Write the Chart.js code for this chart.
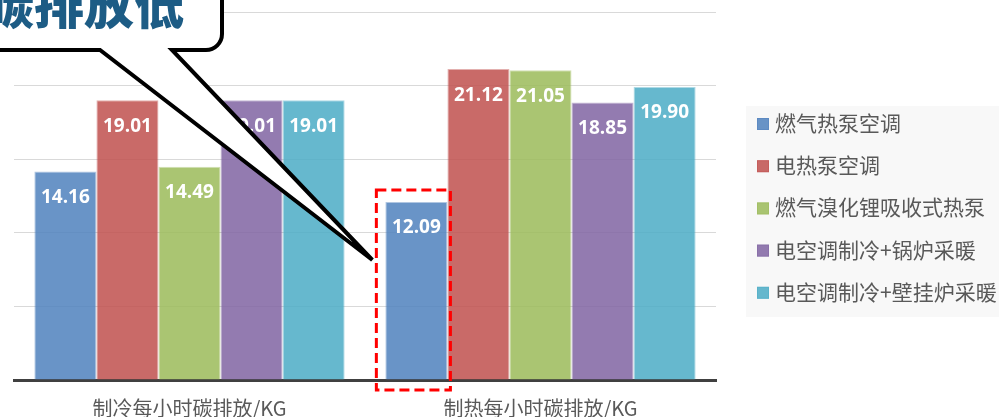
<!DOCTYPE html>
<html>
<head>
<meta charset="utf-8">
<script src="https://cdn.jsdelivr.net/npm/chart.js@4"></script>
<style>
    html, body { margin: 0; padding: 0; background: #fff; }
    #wrap { width: 999px; height: 417px; position: relative; }
</style>
</head>
<body>
<div id="wrap"><canvas id="carbonChart"></canvas></div>
<script>
// Dữ liệu
const categories = ["制冷每小时碳排放/KG", "制热每小时碳排放/KG"];
const seriesNames = ["燃气热泵空调", "电热泵空调", "燃气溴化锂吸收式热泵", "电空调制冷+锅炉采暖", "电空调制冷+壁挂炉采暖"];
const gasHeatPump = [14.16, 12.09];
const electricHeatPump = [19.01, 21.12];
const gasLiBrPump = [14.49, 21.05];
const acPlusBoiler = [19.01, 18.85];
const acPlusWallBoiler = [19.01, 19.90];
const yTicks = [0, 5, 10, 15, 20, 25];
const calloutText = "碳排放低";

const seriesValues = [gasHeatPump, electricHeatPump, gasLiBrPump, acPlusBoiler, acPlusWallBoiler];
const baseColors = [[79, 129, 189], [192, 80, 77], [155, 187, 89], [128, 100, 162], [75, 172, 198]];
const rgba = (c, a) => `rgba(${c[0]}, ${c[1]}, ${c[2]}, ${a})`;

const CJK = "'Noto Sans CJK SC', 'Noto Sans', sans-serif";

// Nhãn giá trị trắng bên trong đỉnh cột
const valueLabels = {
    id: "valueLabels",
    afterDatasetsDraw(chart) {
        const ctx = chart.ctx;
        ctx.save();
        ctx.fillStyle = "#ffffff";
        ctx.font = "bold 19px 'Open Sans', sans-serif";
        ctx.textAlign = "center";
        ctx.textBaseline = "middle";
        chart.data.datasets.forEach((ds, i) => {
            chart.getDatasetMeta(i).data.forEach((bar, j) => {
                ctx.fillText(ds.data[j].toFixed(2), bar.x, bar.y + 26);
            });
        });
        ctx.restore();
    }
};

// Khung nét đứt + hộp chú thích dạng bong bóng
const annotations = {
    id: "annotations",
    afterDraw(chart) {
        const ctx = chart.ctx;
        const bar = chart.getDatasetMeta(0).data[1];
        const left = bar.x - bar.width / 2;
        const right = bar.x + bar.width / 2;
        const base = chart.scales.y.getPixelForValue(0);

        ctx.save();
        // khung đỏ nét đứt
        ctx.strokeStyle = "#ff0000";
        ctx.lineWidth = 3;
        ctx.setLineDash([10, 5]);
        ctx.strokeRect(left - 9, bar.y - 12, right - left + 12, base - bar.y + 22);
        ctx.setLineDash([]);

        // bong bóng
        const tipX = left - 13, tipY = 260;
        const bx = 222, by = 50, r = 16;
        ctx.beginPath();
        ctx.moveTo(-20, -20);
        ctx.lineTo(bx, -20);
        ctx.lineTo(bx, by - r);
        ctx.arcTo(bx, by, bx - r, by, r);
        ctx.lineTo(172, by);
        ctx.lineTo(tipX, tipY);
        ctx.lineTo(100, by);
        ctx.lineTo(-20, by);
        ctx.closePath();
        ctx.fillStyle = "#ffffff";
        ctx.fill();
        ctx.lineWidth = 4;
        ctx.lineJoin = "miter";
        ctx.strokeStyle = "#000000";
        ctx.stroke();

        ctx.fillStyle = "#1d5c85";
        ctx.font = "900 50px " + CJK;
        ctx.textAlign = "right";
        ctx.textBaseline = "alphabetic";
        ctx.fillText(calloutText, 184, 24);
        ctx.restore();
    }
};

// Chú giải tự vẽ ở bên phải (bị cắt ở mép khung)
const sideLegend = {
    id: "sideLegend",
    afterDraw(chart) {
        const ctx = chart.ctx;
        ctx.save();
        ctx.fillStyle = "#f8f8f8";
        ctx.fillRect(746, 106, 260, 211);
        ctx.font = "21px " + CJK;
        ctx.textBaseline = "middle";
        ctx.textAlign = "left";
        chart.data.datasets.forEach((ds, i) => {
            const y = 123 + i * 42.2;
            ctx.fillStyle = ds.backgroundColor;
            ctx.fillRect(757, y - 5, 12, 12);
            ctx.strokeStyle = ds.borderColor;
            ctx.lineWidth = 1;
            ctx.strokeRect(757.5, y - 4.5, 11, 11);
            ctx.fillStyle = "#595959";
            ctx.fillText(ds.label, 775, y);
        });
        ctx.restore();
    }
};

document.addEventListener("DOMContentLoaded", () => {
    const el = document.getElementById("carbonChart");
    new Chart(el, {
        type: "bar",
        data: {
            labels: categories,
            datasets: seriesNames.map((name, i) => ({
                label: name,
                data: seriesValues[i],
                backgroundColor: rgba(baseColors[i], 0.85),
                borderColor: rgba(baseColors[i], 0.45),
                borderWidth: 1,
                categoryPercentage: 0.884,
                barPercentage: 1.0
            }))
        },
        options: {
            responsive: true,
            maintainAspectRatio: false,
            animation: false,
            layout: { padding: { left: 14, right: 283, top: 12, bottom: -19 } },
            plugins: {
                legend: { display: false },
                tooltip: { enabled: false }
            },
            scales: {
                y: {
                    min: yTicks[0],
                    max: yTicks[yTicks.length - 1],
                    afterBuildTicks: (axis) => { axis.ticks = yTicks.map(v => ({ value: v })); },
                    ticks: { display: false },
                    border: { display: false },
                    grid: { color: "#d9d9d9", lineWidth: 1, drawTicks: false }
                },
                x: {
                    grid: { display: false, drawTicks: false },
                    border: { display: true, color: "#404040", width: 3 },
                    ticks: {
                        color: "#595959",
                        padding: 18,
                        font: { family: CJK, size: 20, lineHeight: 1.0 }
                    }
                }
            }
        },
        plugins: [valueLabels, annotations, sideLegend]
    });
});
</script>
</body>
</html>
